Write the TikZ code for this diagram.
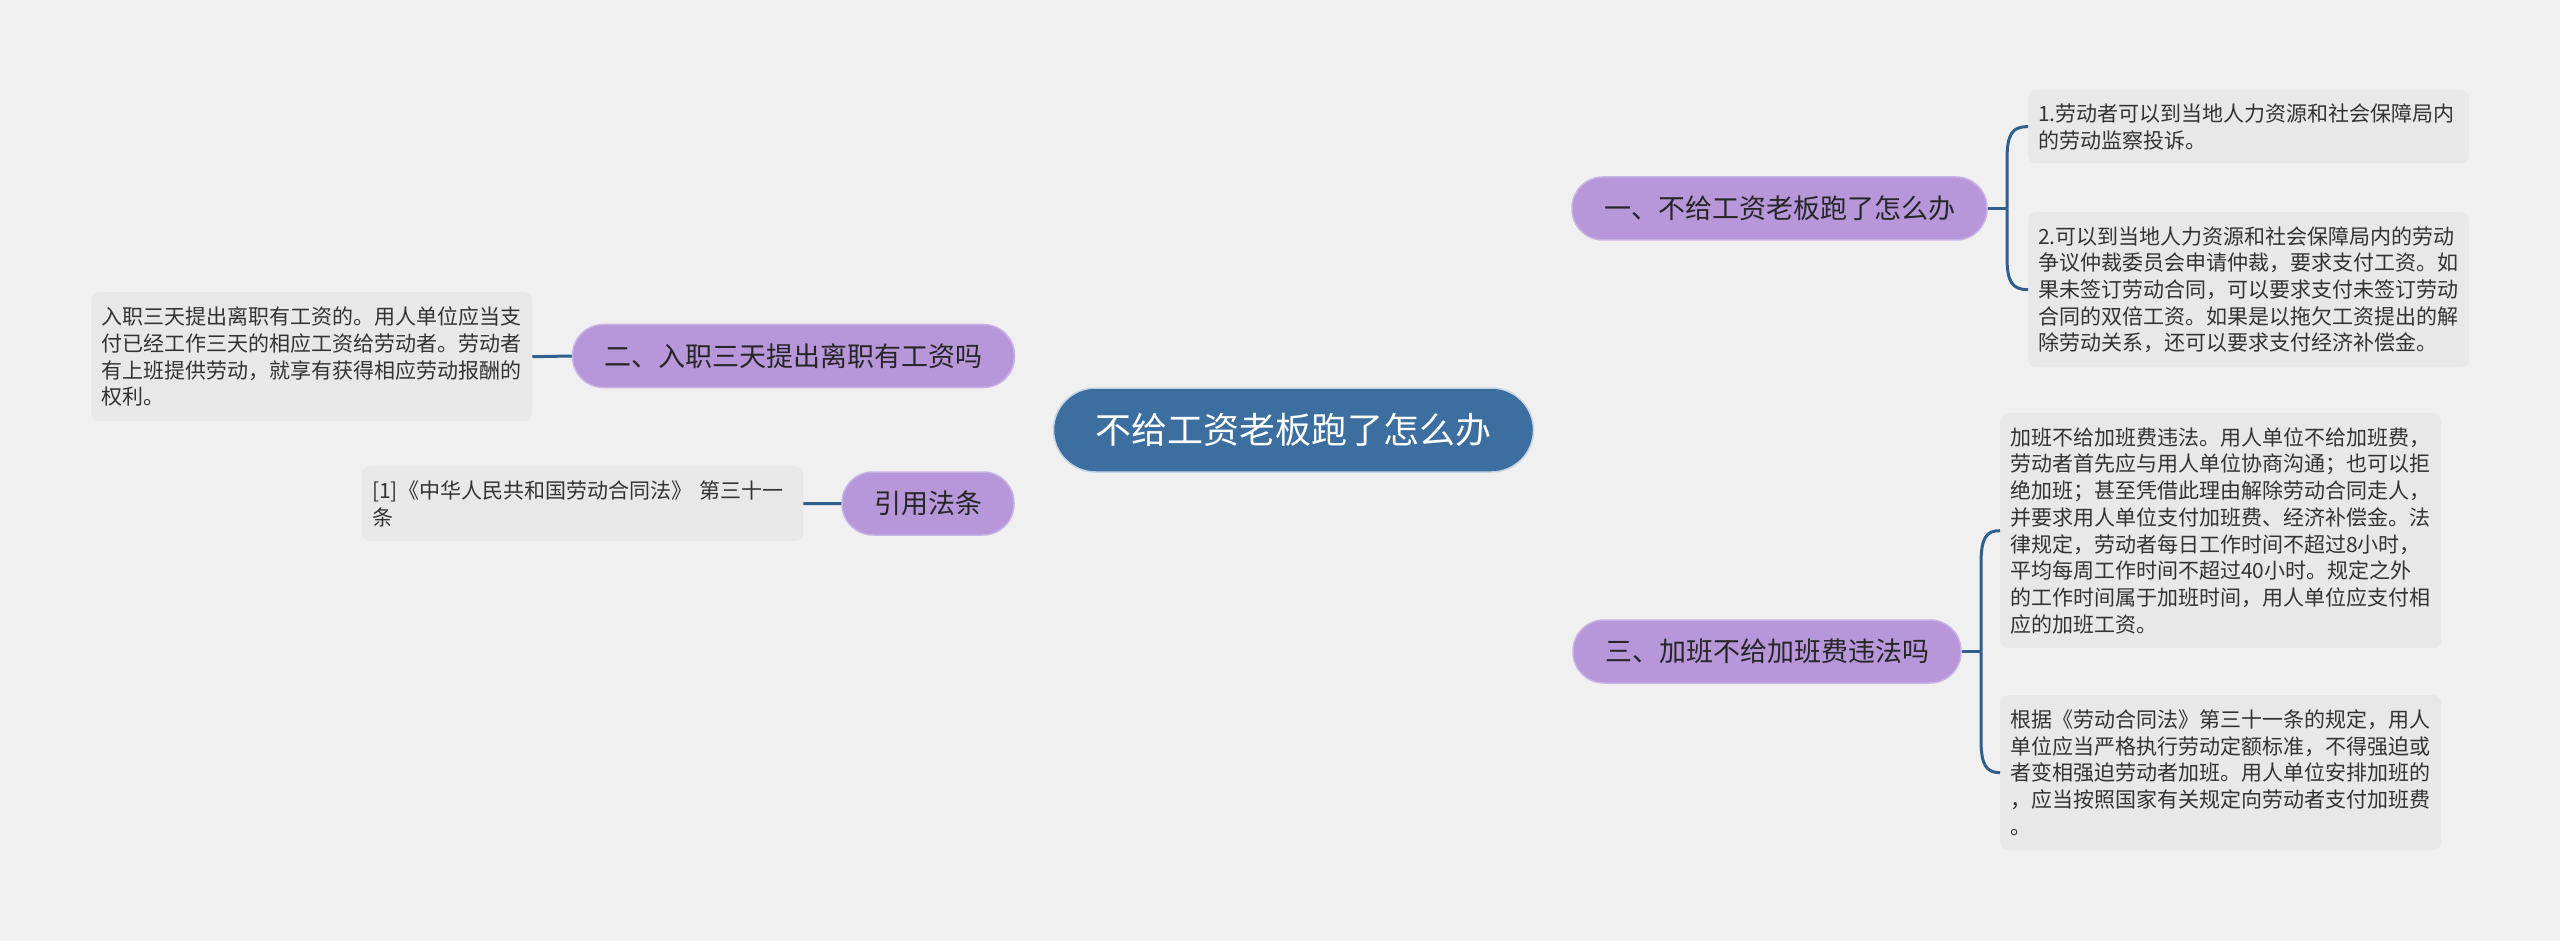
\documentclass[tikz,border=0pt]{standalone}
\usepackage{fontspec}
\setmainfont{Noto Sans CJK SC}
\usetikzlibrary{backgrounds}
\definecolor{bgc}{HTML}{F0F0F0}
\definecolor{leafc}{HTML}{E8E8E8}
\definecolor{branchc}{HTML}{B796D9}
\definecolor{branchb}{HTML}{C9B2E4}
\definecolor{rootc}{HTML}{3C6E9F}
\definecolor{linec}{HTML}{2E5F8E}
\definecolor{txtc}{HTML}{333333}
\tikzset{
  leafbox/.style={anchor=north west, fill=leafc, rounded corners=8pt, text width=421pt, inner xsep=10pt, inner ysep=8pt, align=left, text=txtc, font=\fontsize{21}{26.7}\selectfont},
  branchbox/.style={fill=branchc, draw=branchb, line width=1.5pt, rounded corners=31pt, minimum height=63pt, inner xsep=32pt, inner ysep=0pt, text=black!85, font=\fontsize{27}{32}\selectfont},
  rootbox/.style={fill=rootc, draw=white!70!rootc, line width=1.5pt, rounded corners=42pt, minimum height=84pt, inner xsep=42pt, inner ysep=0pt, text=white, font=\fontsize{36}{42}\selectfont},
  conn/.style={draw=linec, line width=3pt},
}
\begin{document}
\begin{tikzpicture}[x=1pt, y=-1pt]
\fill[bgc] (0,0) rectangle (2560,941);
\useasboundingbox (0,0) rectangle (2560,941);

% root and branches
\node[rootbox] (C) at (1293.5,430) {不给工资老板跑了怎么办};
\node[branchbox] (B1) at (1779.5,208.5) {一、不给工资老板跑了怎么办};
\node[branchbox] (B3) at (1767,651.5) {三、加班不给加班费违法吗};
\node[branchbox] (B2) at (793.5,356) {二、入职三天提出离职有工资吗};
\node[branchbox] (R) at (928,503.5) {引用法条};

% leaves
\node[leafbox, minimum height=73pt] (L1a) at (2028,90) {1.劳动者可以到当地人力资源和社会保障局内\\的劳动监察投诉。};
\node[leafbox, minimum height=155pt] (L1b) at (2028,212) {2.可以到当地人力资源和社会保障局内的劳动\\争议仲裁委员会申请仲裁，要求支付工资。如\\果未签订劳动合同，可以要求支付未签订劳动\\合同的双倍工资。如果是以拖欠工资提出的解\\除劳动关系，还可以要求支付经济补偿金。};
\node[leafbox, minimum height=235pt] (L3a) at (2000,413) {加班不给加班费违法。用人单位不给加班费，\\劳动者首先应与用人单位协商沟通；也可以拒\\绝加班；甚至凭借此理由解除劳动合同走人，\\并要求用人单位支付加班费、经济补偿金。法\\律规定，劳动者每日工作时间不超过8小时，\\平均每周工作时间不超过40小时。规定之外\\的工作时间属于加班时间，用人单位应支付相\\应的加班工资。};
\node[leafbox, minimum height=155pt] (L3b) at (2000,695) {根据《劳动合同法》第三十一条的规定，用人\\单位应当严格执行劳动定额标准，不得强迫或\\者变相强迫劳动者加班。用人单位安排加班的\\，应当按照国家有关规定向劳动者支付加班费\\。};
\node[leafbox, minimum height=129pt] (L2) at (91,292) {入职三天提出离职有工资的。用人单位应当支\\付已经工作三天的相应工资给劳动者。劳动者\\有上班提供劳动，就享有获得相应劳动报酬的\\权利。};
\node[leafbox, minimum height=75pt] (LR) at (362,466) {[1]《中华人民共和国劳动合同法》 第三十一\\条};

\begin{pgfonlayer}{background}
% root connectors
\draw[conn] (C.center) .. controls (1293.5,230) and (1400,208.5) .. (B1.west);
\draw[conn] (C.center) .. controls (1293.5,630) and (1400,651.5) .. (B3.west);
\draw[conn] (C.center) .. controls (1280,356) and (1100,356) .. (B2.east);
\draw[conn] (C.center) .. controls (1280,503.5) and (1100,503.5) .. (R.east);
\end{pgfonlayer}

% left leaf links
\draw[conn] (L2.east) -- (B2.west);
\draw[conn] (LR.east) -- (R.west);

% bracket for branch 1
\coordinate (K1) at (2007,208.5);
\draw[conn] (B1.east) -- (K1);
\draw[conn] (K1) -- (2007,160) .. controls (2007,134) and (2012,126.5) .. (L1a.west);
\draw[conn] (K1) -- (2007,257) .. controls (2007,282) and (2012,289.5) .. (L1b.west);

% bracket for branch 3
\coordinate (K3) at (1981,651.5);
\draw[conn] (B3.east) -- (K3);
\draw[conn] (K3) -- (1981,564) .. controls (1981,538) and (1986,530.5) .. (L3a.west);
\draw[conn] (K3) -- (1981,739) .. controls (1981,765) and (1986,772.5) .. (L3b.west);
\end{tikzpicture}
\end{document}
